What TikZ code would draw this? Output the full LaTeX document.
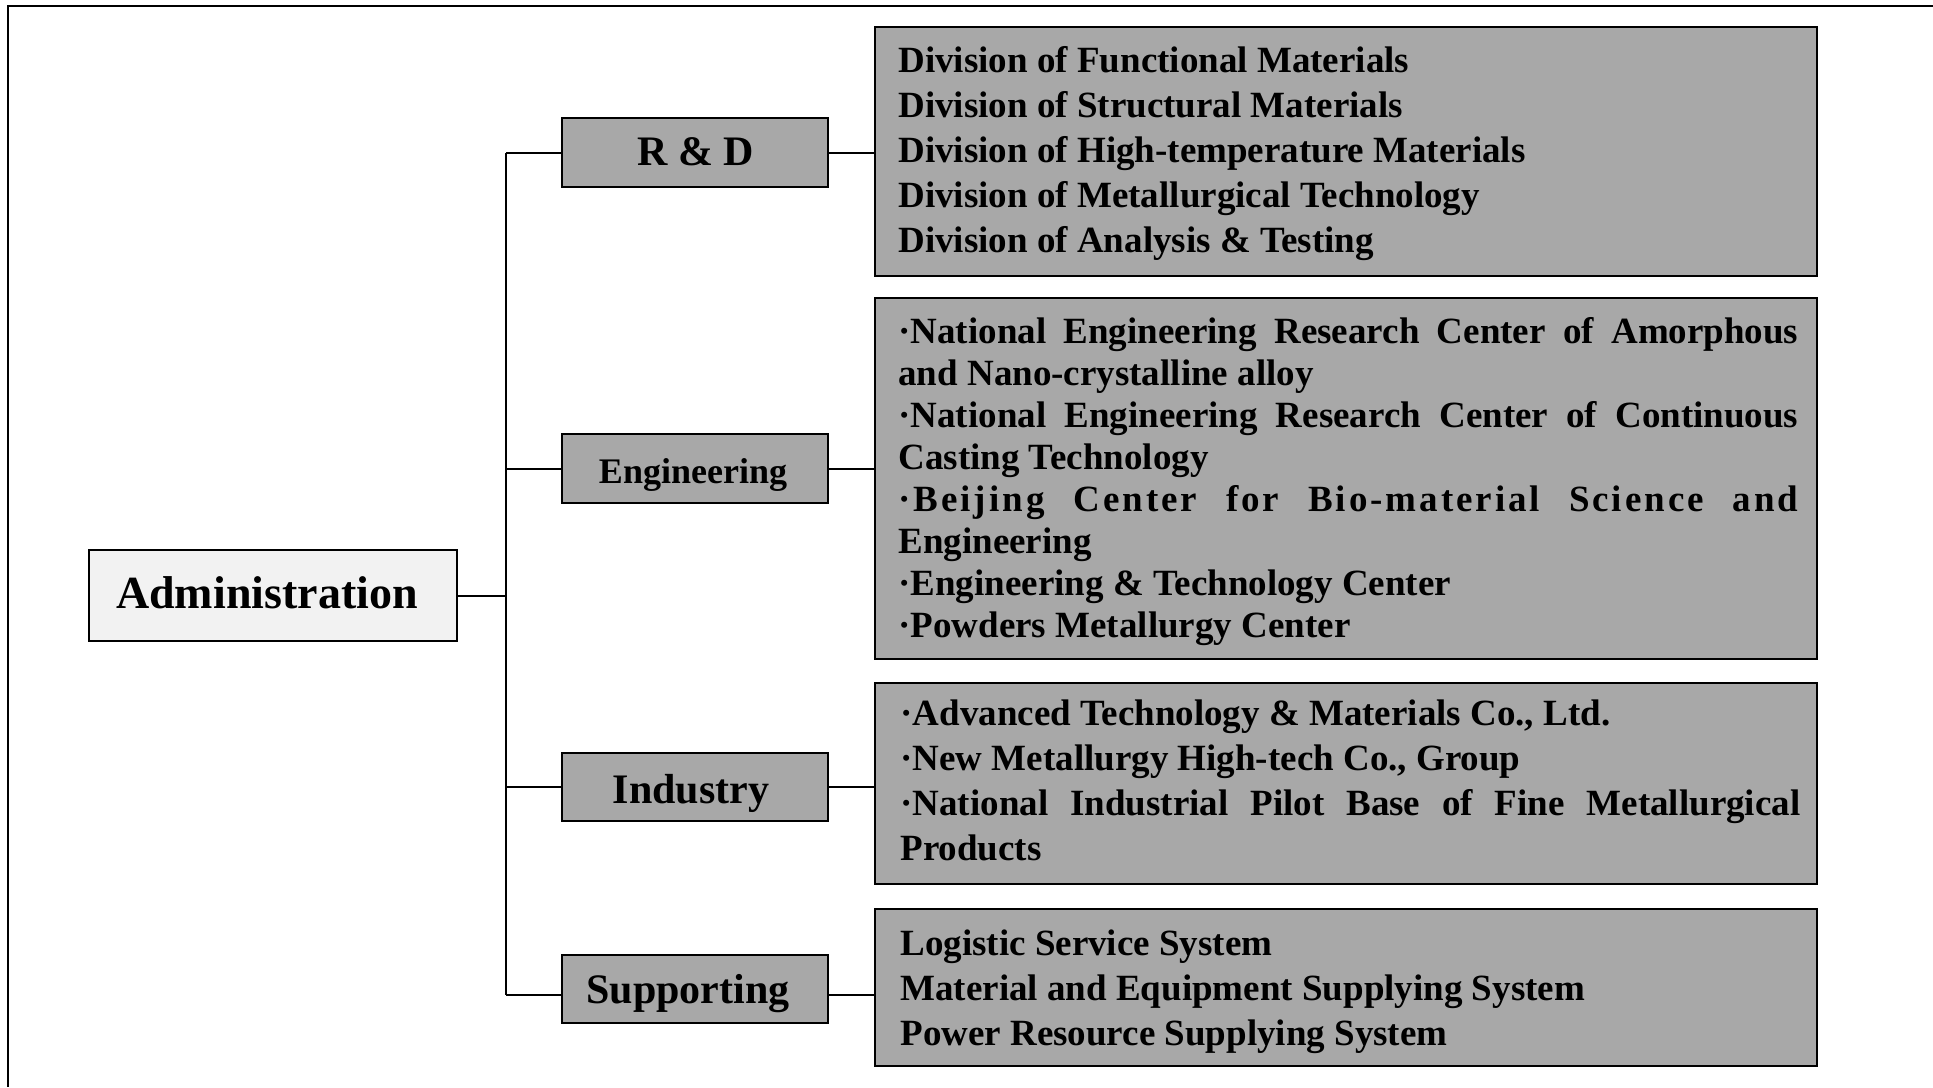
\documentclass[tikz,border=0pt]{standalone}
\usepackage{fontspec}
\setmainfont{Liberation Serif}
\definecolor{boxgray}{gray}{0.66}
\definecolor{admgray}{gray}{0.95}
\begin{document}
\begin{tikzpicture}[x=0.5pt,y=-0.5pt,
  frame/.style={line width=1pt},
  conn/.style={line width=1pt},
  branch/.style={draw, line width=1.2pt, fill=boxgray, minimum width=133pt, inner sep=0pt},
  listbox/.style={draw, line width=1.2pt, fill=boxgray, minimum width=471pt, inner sep=0pt},
  admbox/.style={draw, line width=1pt, fill=admgray, minimum width=184pt, minimum height=45.5pt, inner sep=0pt},
  lbl/.style={anchor=base, inner sep=0pt, font=\bfseries\fontsize{21pt}{25pt}\selectfont},
  item/.style={anchor=base west, inner sep=0pt, font=\bfseries\fontsize{18.5pt}{22pt}\selectfont},
]
\useasboundingbox (0,0) rectangle (1933,1087);
% frame (top and left edges)
\coordinate (ftl) at (8,6);
\coordinate (ftr) at (1933,6);
\coordinate (fbl) at (8,1087);
\draw[frame] (ftr) -- (ftl) -- (fbl);

% administration
\node[admbox] (adm) at (273,595) {};
\node[lbl, font=\bfseries\fontsize{23pt}{27pt}\selectfont] (admt) at (267,608) {Administration};

% branch boxes
\node[branch, minimum height=34.5pt] (rd)  at (695,152.5) {};
\node[branch, minimum height=34.5pt] (eng) at (695,468.5) {};
\node[branch, minimum height=34pt]   (ind) at (695,787) {};
\node[branch, minimum height=34pt]   (sup) at (695,989) {};
\node[lbl] (rdt) at (696,165) {R \& D};
\node[lbl, font=\bfseries\fontsize{18pt}{22pt}\selectfont] (engt) at (693,483) {Engineering};
\node[lbl] (indt) at (691,803) {Industry};
\node[lbl] (supt) at (688,1003) {Supporting};

% list boxes
\node[listbox, minimum height=124.5pt] (rdbox)  at (1346,151.5) {};
\node[listbox, minimum height=180.5pt] (engbox) at (1346,478.5) {};
\node[listbox, minimum height=100.5pt] (indbox) at (1346,783.5) {};
\node[listbox, minimum height=78.5pt]  (supbox) at (1346,987.5) {};

% list texts
\foreach \t [count=\i] in {Division of Functional Materials, Division of Structural Materials, Division of High-temperature Materials, Division of Metallurgical Technology, {Division of Analysis \& Testing}}
  \node[item] (rd\i) at (898,{72+45*(\i-1)}) {\t};

\foreach \t [count=\i] in {{\makebox[450pt][s]{·National Engineering Research Center of Amorphous}}, {and Nano-crystalline alloy}, {\makebox[450pt][s]{·National Engineering Research Center of Continuous}}, {Casting Technology}, {\makebox[450pt][s]{\addfontfeature{LetterSpace=8}·Beijing Center for Bio-material Science and}}, {Engineering}, {·Engineering \& Technology Center}, {·Powders Metallurgy Center}}
  \node[item] (eng\i) at (898,{343+42*(\i-1)}) {\t};

\foreach \t [count=\i] in {{·Advanced Technology \& Materials Co., Ltd.}, {·New Metallurgy High-tech Co., Group}, {\makebox[450pt][s]{·National Industrial Pilot Base of Fine Metallurgical}}, {Products}}
  \node[item] (ind\i) at (900,{725+45*(\i-1)}) {\t};

\foreach \t [count=\i] in {Logistic Service System, Material and Equipment Supplying System, Power Resource Supplying System}
  \node[item] (sup\i) at (900,{955+45*(\i-1)}) {\t};

% connectors
\coordinate (jt) at (506,596);
\coordinate (supc) at ([yshift=-3pt]sup.west);
\coordinate (supe) at ([yshift=-3pt]sup.east);
\draw[conn] (adm.east |- jt) -- (jt);
\draw[conn] (rd.west -| jt) -- (supc -| jt);
\foreach \b in {rd,eng,ind}{
  \draw[conn] (\b.west -| jt) -- (\b.west);
  \draw[conn] (\b.east) -- (\b.east -| \b box.west);
}
\draw[conn] (supc -| jt) -- (supc);
\draw[conn] (supe) -- (supe -| supbox.west);
\end{tikzpicture}
\end{document}
